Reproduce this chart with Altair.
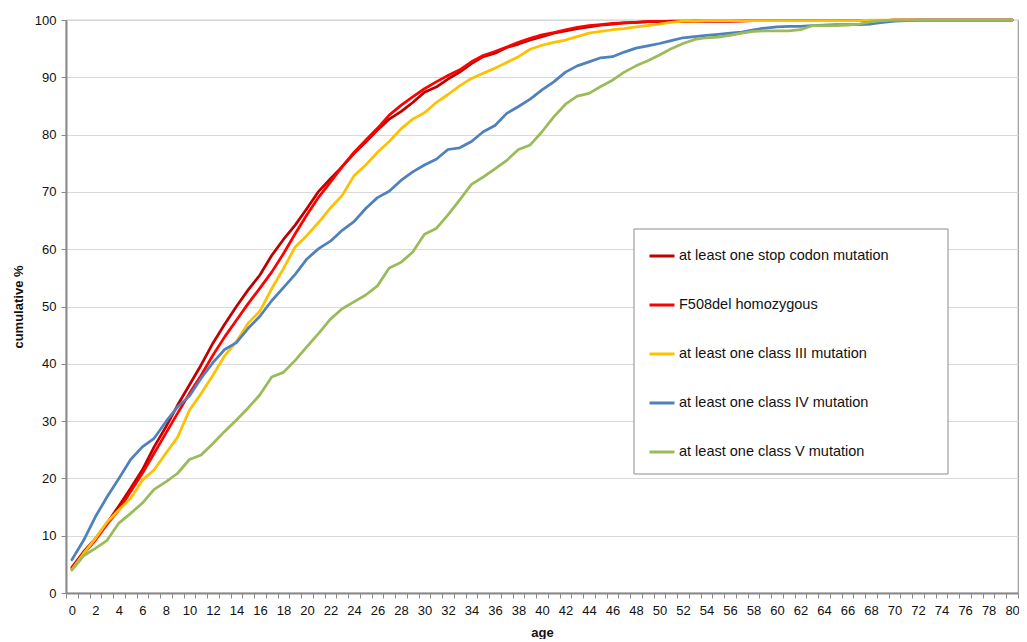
import altair as alt
import pandas as pd

ages = list(range(0, 81))

series_names = [
    "at least one stop codon mutation",
    "F508del homozygous",
    "at least one class III mutation",
    "at least one class IV mutation",
    "at least one class V mutation",
]
series_colors = ["#C00000", "#FF0000", "#FFC000", "#4F81BD", "#9BBB59"]

stop_codon = [4.5, 7.2, 9.5, 12.2, 15.2, 18.3, 21.5, 25.5, 29.0, 32.8,
              36.3, 39.8, 43.6, 46.9, 50.0, 52.9, 55.5, 58.9, 61.7, 64.2,
              67.1, 70.1, 72.3, 74.4, 76.7, 78.7, 80.8, 82.7, 84.0, 85.6,
              87.4, 88.3, 89.7, 90.9, 92.4, 93.6, 94.2, 95.2, 95.8, 96.5,
              97.1, 97.7, 98.1, 98.5, 98.8, 99.1, 99.3, 99.5, 99.6, 99.7,
              99.7, 99.8, 99.8, 99.8, 99.8, 99.8, 99.8, 99.9, 99.9, 99.9,
              99.9, 99.9, 99.9, 99.9, 99.9, 99.9, 99.9, 99.9, 99.9, 99.9,
              100, 100, 100, 100, 100, 100, 100, 100, 100, 100, 100]

f508del = [4.3, 6.9, 9.2, 12.0, 14.5, 17.7, 20.9, 24.4, 27.9, 31.4,
           34.8, 38.0, 41.5, 44.7, 47.6, 50.5, 53.2, 56.0, 59.2, 62.7,
           66.0, 69.1, 71.7, 74.4, 76.9, 79.0, 81.1, 83.4, 85.1, 86.6,
           88.0, 89.2, 90.3, 91.3, 92.7, 93.8, 94.5, 95.3, 96.1, 96.8,
           97.4, 97.8, 98.3, 98.7, 99.0, 99.2, 99.4, 99.5, 99.6, 99.7,
           99.7, 99.7, 99.7, 99.8, 99.8, 99.8, 99.8, 99.8, 99.9, 99.9,
           99.9, 99.9, 99.9, 99.9, 99.9, 99.9, 99.9, 99.9, 99.9, 99.9,
           100, 100, 100, 100, 100, 100, 100, 100, 100, 100, 100]

class_iii = [4.1, 6.9, 9.5, 12.4, 14.5, 16.5, 19.7, 21.5, 24.4, 27.2,
             31.9, 34.8, 38.0, 41.4, 43.9, 47.1, 49.2, 53.1, 56.6, 60.4,
             62.4, 64.7, 67.2, 69.4, 72.8, 74.7, 76.9, 78.8, 81.0, 82.7,
             83.8, 85.6, 87.0, 88.5, 89.8, 90.7, 91.6, 92.6, 93.6, 94.9,
             95.6, 96.1, 96.5, 97.1, 97.7, 98.0, 98.3, 98.5, 98.8, 99.0,
             99.3, 99.6, 99.8, 99.8, 99.9, 99.9, 99.9, 99.9, 99.9, 99.9,
             99.9, 99.9, 99.9, 99.9, 99.9, 99.9, 99.9, 99.9, 100, 100,
             100, 100, 100, 100, 100, 100, 100, 100, 100, 100, 100]

class_iv = [5.8, 9.2, 13.3, 16.8, 20.0, 23.3, 25.5, 27.0, 29.9, 32.5,
            34.4, 37.5, 40.2, 42.5, 43.7, 46.2, 48.3, 51.0, 53.3, 55.6,
            58.3, 60.1, 61.4, 63.3, 64.8, 67.1, 69.0, 70.1, 72.0, 73.5,
            74.7, 75.7, 77.4, 77.7, 78.8, 80.5, 81.6, 83.7, 84.9, 86.2,
            87.8, 89.2, 90.9, 92.0, 92.7, 93.4, 93.6, 94.4, 95.1, 95.5,
            95.9, 96.4, 96.9, 97.1, 97.3, 97.5, 97.7, 97.9, 98.3, 98.6,
            98.8, 98.9, 98.9, 99.0, 99.1, 99.2, 99.2, 99.2, 99.3, 99.6,
            99.8, 99.9, 100, 100, 100, 100, 100, 100, 100, 100, 100]

class_v = [4.0, 6.5, 7.8, 9.2, 12.2, 13.9, 15.7, 18.1, 19.4, 20.9,
           23.3, 24.1, 26.1, 28.2, 30.2, 32.3, 34.6, 37.7, 38.5, 40.6,
           43.0, 45.3, 47.8, 49.6, 50.8, 52.0, 53.6, 56.7, 57.7, 59.5,
           62.6, 63.6, 66.0, 68.6, 71.3, 72.6, 74.0, 75.5, 77.4, 78.2,
           80.5, 83.1, 85.3, 86.7, 87.2, 88.4, 89.5, 90.9, 92.0, 92.9,
           93.9, 95.0, 95.9, 96.6, 96.9, 97.0, 97.3, 97.7, 98.0, 98.1,
           98.1, 98.1, 98.3, 99.0, 99.0, 99.0, 99.1, 99.3, 99.7, 99.9,
           100, 100, 100, 100, 100, 100, 100, 100, 100, 100, 100]

all_values = [stop_codon, f508del, class_iii, class_iv, class_v]

rows = []
for order, (name, vals) in enumerate(zip(series_names, all_values)):
    for a, v in zip(ages, vals):
        rows.append({"age": a, "value": v, "series": name, "order": order})
df = pd.DataFrame(rows)

FONT = "Liberation Sans"

# legend frame (decoration, in pixels of the plot area)
frame = (
    alt.Chart(pd.DataFrame({"k": [0]}))
    .mark_rect(fill="white", stroke="#8c8c8c", strokeWidth=1)
    .encode(
        x=alt.value(568), x2=alt.value(882),
        y=alt.value(209), y2=alt.value(454),
    )
)

lines = (
    alt.Chart(df)
    .mark_line(strokeWidth=2.75, strokeJoin="round", strokeCap="round")
    .encode(
        x=alt.X(
            "age:O",
            scale=alt.Scale(paddingInner=0, paddingOuter=0),
            axis=alt.Axis(
                title="age",
                tickBand="extent",
                labelAngle=0,
                labelExpr="datum.value % 2 == 0 ? datum.label : ''",
                tickSize=5,
                labelPadding=6,
                titlePadding=9,
                grid=False,
            ),
        ),
        y=alt.Y(
            "value:Q",
            scale=alt.Scale(domain=[0, 100], nice=False),
            axis=alt.Axis(
                title="cumulative %",
                values=list(range(0, 101, 10)),
                tickSize=5,
                labelPadding=5,
                titlePadding=9,
                grid=True,
            ),
        ),
        color=alt.Color(
            "series:N",
            scale=alt.Scale(domain=series_names, range=series_colors),
            sort=series_names,
            legend=alt.Legend(
                title=None,
                orient="none",
                legendX=582,
                legendY=222,
                padding=0,
                symbolType="stroke",
                symbolSize=625,
                symbolStrokeWidth=3,
                labelFontSize=14.5,
                labelFont=FONT,
                labelColor="#111",
                labelLimit=500,
                labelOffset=3,
                rowPadding=28,
            ),
        ),
        order=alt.Order("order:Q"),
        detail="series:N",
    )
)

chart = (
    alt.layer(frame, lines)
    .properties(
        width=952,
        height=573,
        autosize=alt.AutoSizeParams(type="none"),
        padding={"left": 58, "top": 12, "right": 1, "bottom": 46},
    )
    .configure_view(stroke="#9a9a9a", strokeWidth=1.2)
    .configure_axis(
        labelFont=FONT,
        titleFont=FONT,
        labelFontSize=13,
        titleFontSize=13,
        titleFontWeight="bold",
        labelColor="#111",
        titleColor="#111",
        domainColor="#8a8a8a",
        domainWidth=2,
        tickColor="#8a8a8a",
        tickWidth=1,
        gridColor="#D9D9D9",
        gridWidth=1.2,
    )
)

chart.save("out.html", embed_options={"renderer": "svg", "actions": False})
